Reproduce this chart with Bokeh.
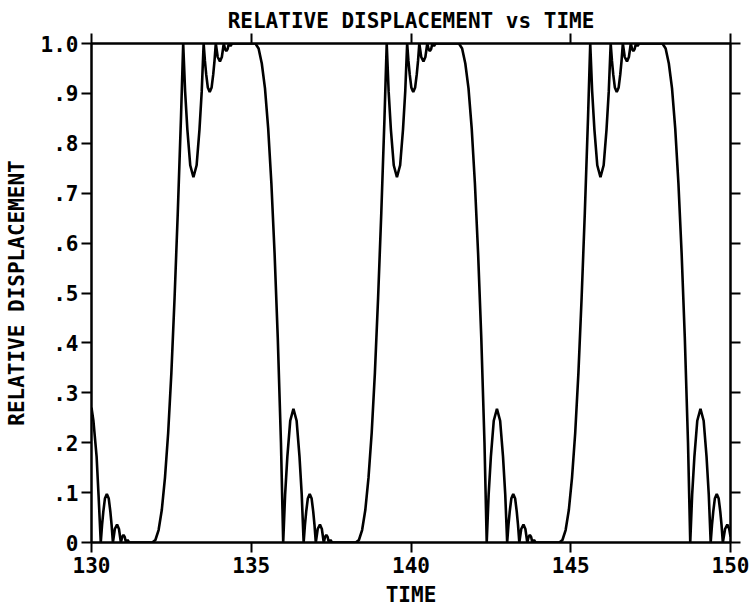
from bokeh.plotting import figure
from bokeh.models import Range1d, LinearAxis, FixedTicker, ColumnDataSource
from bokeh.embed import file_html
from bokeh.resources import INLINE

# ---- data ----
# tail of the bounce sequence at the start of the window
t_start = [130.00, 130.06, 130.16, 130.22, 130.29, 130.33, 130.37, 130.42, 130.48, 130.54,
           130.59, 130.63, 130.67, 130.73, 130.80, 130.86, 130.92, 130.96, 131.00, 131.04,
           131.08, 131.13, 131.18]
d_start = [0.270, 0.244, 0.172, 0.096, 0.0, 0.035, 0.062, 0.088, 0.097, 0.088,
           0.062, 0.035, 0.0, 0.027, 0.036, 0.027, 0.0, 0.011, 0.015, 0.011,
           0.0, 0.005, 0.0]

# cycle 1
t_cycle1 = [131.90, 132.00, 132.10, 132.20, 132.30, 132.40, 132.50, 132.60, 132.70, 132.80, 132.87,
            132.93, 133.00, 133.09, 133.19, 133.29, 133.38, 133.45, 133.51, 133.55, 133.59,
            133.64, 133.70, 133.76, 133.81, 133.85, 133.89, 133.95, 134.02, 134.08, 134.14,
            134.18, 134.22, 134.26, 134.30, 134.35, 134.40,
            135.13, 135.23, 135.33, 135.43, 135.53, 135.63, 135.73, 135.83, 135.93, 136.00,
            136.06, 136.13, 136.22, 136.32, 136.42, 136.51, 136.58, 136.64, 136.68, 136.72,
            136.77, 136.83, 136.89, 136.94, 136.98, 137.02, 137.08, 137.15, 137.21, 137.27,
            137.31, 137.35, 137.39, 137.43, 137.48, 137.53]
d_cycle1 = [0.0, 0.005, 0.025, 0.065, 0.13, 0.22, 0.34, 0.49, 0.66, 0.85, 1.0,
            0.904, 0.828, 0.756, 0.732, 0.756, 0.828, 0.904, 1.0, 0.965, 0.938,
            0.912, 0.903, 0.912, 0.938, 0.965, 1.0, 0.973, 0.964, 0.973, 1.0,
            0.989, 0.985, 0.989, 1.0, 0.995, 1.0,
            1.0, 0.99, 0.96, 0.91, 0.83, 0.72, 0.58, 0.41, 0.20, 0.0,
            0.096, 0.172, 0.244, 0.268, 0.244, 0.172, 0.096, 0.0, 0.035, 0.062,
            0.088, 0.097, 0.088, 0.062, 0.035, 0.0, 0.027, 0.036, 0.027, 0.0,
            0.011, 0.015, 0.011, 0.0, 0.005, 0.0]

# cycle 2
t_cycle2 = [138.27, 138.37, 138.47, 138.57, 138.67, 138.77, 138.87, 138.97, 139.07, 139.17, 139.24,
            139.30, 139.37, 139.46, 139.56, 139.66, 139.75, 139.82, 139.88, 139.92, 139.96,
            140.01, 140.07, 140.13, 140.18, 140.22, 140.26, 140.32, 140.39, 140.45, 140.51,
            140.55, 140.59, 140.63, 140.67, 140.72, 140.77,
            141.50, 141.60, 141.70, 141.80, 141.90, 142.00, 142.10, 142.20, 142.30, 142.37,
            142.43, 142.50, 142.59, 142.69, 142.79, 142.88, 142.95, 143.01, 143.05, 143.09,
            143.14, 143.20, 143.26, 143.31, 143.35, 143.39, 143.45, 143.52, 143.58, 143.64,
            143.68, 143.72, 143.76, 143.80, 143.85, 143.90]
d_cycle2 = [0.0, 0.005, 0.025, 0.065, 0.13, 0.22, 0.34, 0.49, 0.66, 0.85, 1.0,
            0.904, 0.828, 0.756, 0.732, 0.756, 0.828, 0.904, 1.0, 0.965, 0.938,
            0.912, 0.903, 0.912, 0.938, 0.965, 1.0, 0.973, 0.964, 0.973, 1.0,
            0.989, 0.985, 0.989, 1.0, 0.995, 1.0,
            1.0, 0.99, 0.96, 0.91, 0.83, 0.72, 0.58, 0.41, 0.20, 0.0,
            0.096, 0.172, 0.244, 0.268, 0.244, 0.172, 0.096, 0.0, 0.035, 0.062,
            0.088, 0.097, 0.088, 0.062, 0.035, 0.0, 0.027, 0.036, 0.027, 0.0,
            0.011, 0.015, 0.011, 0.0, 0.005, 0.0]

# cycle 3 (cut off at the right edge)
t_cycle3 = [144.64, 144.74, 144.84, 144.94, 145.04, 145.14, 145.24, 145.34, 145.44, 145.54, 145.61,
            145.67, 145.74, 145.83, 145.93, 146.03, 146.12, 146.19, 146.25, 146.29, 146.33,
            146.38, 146.44, 146.50, 146.55, 146.59, 146.63, 146.69, 146.76, 146.82, 146.88,
            146.92, 146.96, 147.00, 147.04, 147.09, 147.14,
            147.87, 147.97, 148.07, 148.17, 148.27, 148.37, 148.47, 148.57, 148.67, 148.74,
            148.80, 148.87, 148.96, 149.06, 149.16, 149.25, 149.32, 149.38, 149.42, 149.46,
            149.51, 149.57, 149.63, 149.68, 149.72, 149.76, 149.83, 149.90, 149.96, 150.00]
d_cycle3 = [0.0, 0.005, 0.025, 0.065, 0.13, 0.22, 0.34, 0.49, 0.66, 0.85, 1.0,
            0.904, 0.828, 0.756, 0.732, 0.756, 0.828, 0.904, 1.0, 0.965, 0.938,
            0.912, 0.903, 0.912, 0.938, 0.965, 1.0, 0.973, 0.964, 0.973, 1.0,
            0.989, 0.985, 0.989, 1.0, 0.995, 1.0,
            1.0, 0.99, 0.96, 0.91, 0.83, 0.72, 0.58, 0.41, 0.20, 0.0,
            0.096, 0.172, 0.244, 0.268, 0.244, 0.172, 0.096, 0.0, 0.035, 0.062,
            0.088, 0.097, 0.088, 0.062, 0.035, 0.0, 0.027, 0.036, 0.027, 0.012]

x_ticks = [130, 135, 140, 145, 150]
y_ticks = [0, 0.1, 0.2, 0.3, 0.4, 0.5, 0.6, 0.7, 0.8, 0.9, 1.0]
y_tick_labels = ["0", ".1", ".2", ".3", ".4", ".5", ".6", ".7", ".8", ".9", "1.0"]

title_text = "RELATIVE DISPLACEMENT vs TIME"
x_label = "TIME"
y_label = "RELATIVE DISPLACEMENT"

time = t_start + t_cycle1 + t_cycle2 + t_cycle3
displacement = d_start + d_cycle1 + d_cycle2 + d_cycle3

FONT = "DejaVu Sans Mono"
FS = "21px"
WEIGHT = "bold"

p = figure(width=749, height=609, output_backend="svg", toolbar_location=None,
           x_range=Range1d(130, 150), y_range=Range1d(0, 1),
           min_border_left=91, min_border_right=19, min_border_top=43, min_border_bottom=67,
           title=title_text)
p.title.align = "center"
p.title.text_font = FONT
p.title.text_font_size = FS
p.title.text_font_style = WEIGHT
p.title.text_color = "black"
p.title.standoff = 2
p.grid.visible = False
p.outline_line_color = "black"
p.outline_line_width = 2

src = ColumnDataSource(dict(t=time, d=displacement))
p.line("t", "d", source=src, line_color="black", line_width=2.6)

def style_axis(ax):
    ax.axis_line_width = 2
    ax.axis_line_color = "black"
    ax.major_tick_line_width = 2
    ax.major_tick_out = 10
    ax.major_tick_in = 0
    ax.minor_tick_line_color = None
    ax.major_label_text_font = FONT
    ax.major_label_text_font_size = FS
    ax.major_label_text_font_style = WEIGHT
    ax.major_label_text_color = "black"
    ax.axis_label_text_font = FONT
    ax.axis_label_text_font_size = FS
    ax.axis_label_text_font_style = WEIGHT
    ax.axis_label_text_color = "black"

xax = p.xaxis[0]
xax.ticker = FixedTicker(ticks=x_ticks)
xax.axis_label = x_label
style_axis(xax)
xax.major_label_standoff = 4
xax.axis_label_standoff = 7

yax = p.yaxis[0]
yax.ticker = FixedTicker(ticks=y_ticks)
yax.major_label_overrides = {v: s for v, s in zip(y_ticks, y_tick_labels)}
yax.axis_label = y_label
style_axis(yax)
yax.major_label_standoff = 3
yax.axis_label_standoff = 9

# plain tick-only axes on the right and top edges
rax = LinearAxis(ticker=FixedTicker(ticks=y_ticks))
style_axis(rax)
rax.major_label_overrides = {v: "" for v in y_ticks}
rax.major_label_standoff = 0
p.add_layout(rax, "right")

tax = LinearAxis(ticker=FixedTicker(ticks=x_ticks))
style_axis(tax)
tax.major_label_overrides = {v: "" for v in x_ticks}
tax.major_label_standoff = 0
p.add_layout(tax, "above")

open("out.html", "w").write(file_html(p, INLINE))
